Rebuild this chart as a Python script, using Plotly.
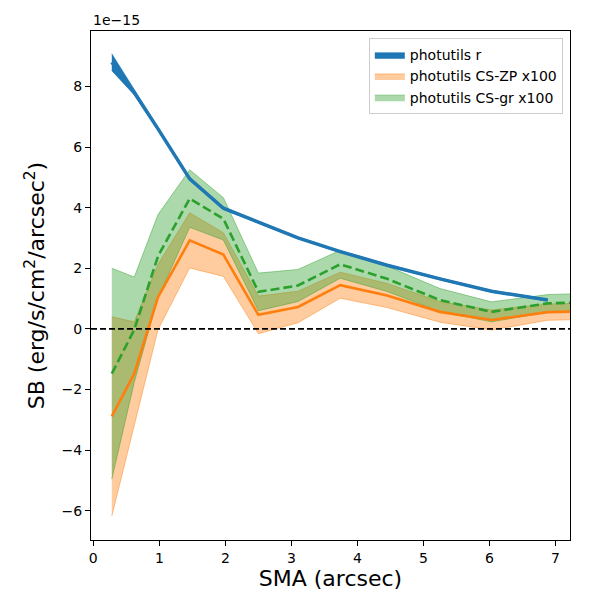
import plotly.graph_objects as go

# surface brightness profiles, values in units of 1e-15 erg/s/cm^2/arcsec^2
sma = [0.28, 0.62, 0.98, 1.46, 1.97, 2.5, 3.1, 3.74, 4.45, 5.25, 6.03, 6.88, 7.8]

sb_r = [8.8, 7.8, 6.6, 4.95, 3.98, 3.52, 3.0, 2.55, 2.1, 1.65, 1.24, 0.95]
sb_r_err = [0.28, 0.08, 0.05, 0.05, 0.04, 0.03, 0.03, 0.03, 0.03, 0.03, 0.03, 0.03]

sb_zp = [-2.89, -1.48, 1.05, 2.92, 2.45, 0.46, 0.72, 1.44, 1.1, 0.56, 0.29, 0.55, 0.6]
sb_zp_err = [3.29, 1.71, 1.08, 0.91, 0.72, 0.62, 0.52, 0.43, 0.4, 0.34, 0.33, 0.27, 0.27]

sb_gr = [-1.48, -0.03, 2.4, 4.3, 3.63, 1.22, 1.43, 2.13, 1.65, 0.95, 0.56, 0.84, 0.9]
sb_gr_err = [3.48, 1.74, 1.37, 0.95, 0.7, 0.62, 0.53, 0.46, 0.42, 0.38, 0.33, 0.29, 0.29]

labels = ["photutils r", "photutils CS-ZP x100", "photutils CS-gr x100"]

yticks = [-6, -4, -2, 0, 2, 4, 6, 8]
xticks = [0, 1, 2, 3, 4, 5, 6, 7]


def band(x, y, err, fill, edge, name):
  up = [v + e for v, e in zip(y, err)]
  lo = [v - e for v, e in zip(y, err)]
  return go.Scatter(x=list(x) + list(x)[::-1], y=up + lo[::-1], fill="toself", fillcolor=fill,
                    mode="lines", line=dict(color=edge, width=1), name=name, hoverinfo="skip")


x_r = sma[:len(sb_r)]
fig = go.Figure()
fig.add_trace(band(x_r, sb_r, sb_r_err, "#1f77b4", "rgba(31,119,180,0.6)", labels[0]))
fig.add_trace(band(sma, sb_zp, sb_zp_err, "rgba(255,127,14,0.4)", "rgba(255,127,14,0.45)", labels[1]))
fig.add_trace(band(sma, sb_gr, sb_gr_err, "rgba(44,160,44,0.4)", "rgba(44,160,44,0.45)", labels[2]))

fig.add_trace(go.Scatter(x=x_r, y=sb_r, mode="lines", line=dict(color="#1f77b4", width=3.5), showlegend=False))
fig.add_trace(go.Scatter(x=sma, y=sb_zp, mode="lines", line=dict(color="#ff7f0e", width=2.6), showlegend=False))
fig.add_trace(go.Scatter(x=sma, y=sb_gr, mode="lines", line=dict(color="#2ca02c", width=2.6, dash="9px,4px"),
                         showlegend=False))

# zero line across the whole axis
fig.add_shape(type="line", xref="paper", yref="y", x0=0, x1=1, y0=0, y1=0,
              line=dict(color="black", width=1.6, dash="6px,3px"))

fig.add_annotation(text="1e\u221215", xref="paper", yref="paper", x=0, y=1, xanchor="left", yanchor="bottom",
                   showarrow=False, font=dict(size=14, color="black"), yshift=1)

axis_common = dict(showline=True, linecolor="black", linewidth=1, mirror=True, ticks="outside", ticklen=5,
                   tickcolor="black", showgrid=False, zeroline=False, tickfont=dict(size=14, color="black"))

# page body has an 8px margin, so the figure is a bit smaller than the window
fig.update_layout(
  width=592, height=592,
  margin=dict(l=83, r=30, t=23, b=60),
  paper_bgcolor="white", plot_bgcolor="white",
  font=dict(family="DejaVu Sans", color="black"),
  xaxis=dict(range=[-0.035, 7.22], tickvals=xticks, ticktext=[str(t) for t in xticks],
             title=dict(text="SMA (arcsec)", font=dict(size=22), standoff=4), **axis_common),
  yaxis=dict(range=[-6.97, 9.83], tickvals=yticks, ticktext=[str(t).replace("-", "\u2212") for t in yticks],
             title=dict(text="SB (erg/s/cm<sup>2</sup>/arcsec<sup>2</sup>)", font=dict(size=22), standoff=10),
             **axis_common),
  legend=dict(x=0.985, y=0.986, xanchor="right", yanchor="top", bgcolor="rgba(255,255,255,0.8)",
              bordercolor="#cccccc", borderwidth=1, font=dict(size=14), tracegroupgap=0),
  showlegend=True,
)

fig.write_html("out.html")
